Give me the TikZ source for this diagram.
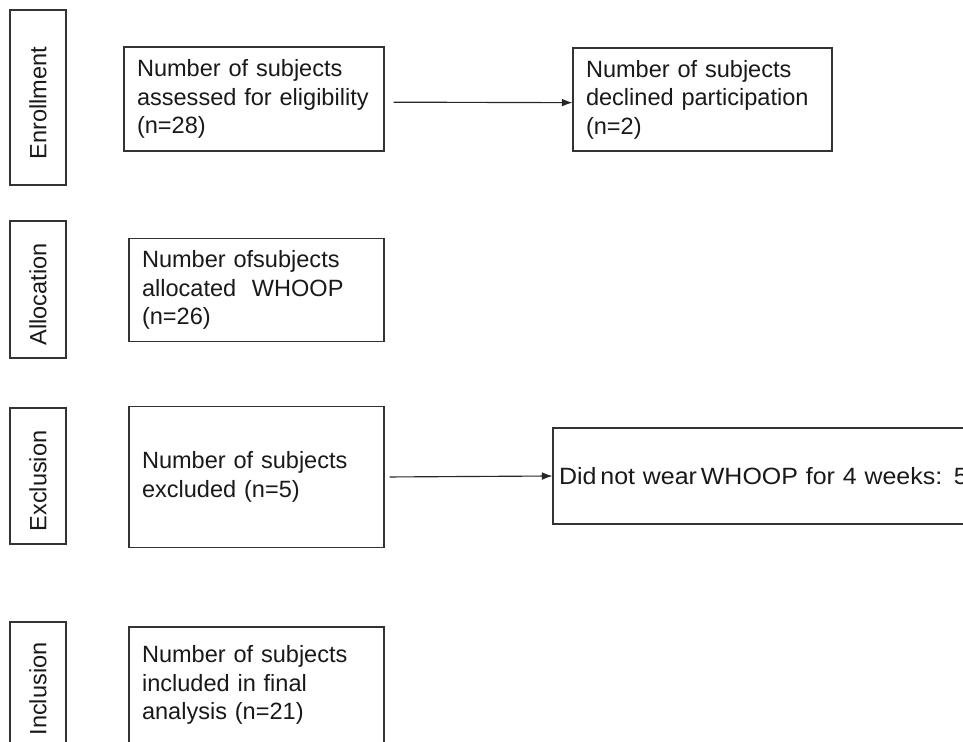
\documentclass[tikz,border=0pt]{standalone}
\usepackage{fontspec}
\setmainfont{Liberation Sans}
\newfontfamily\widesans[FakeStretch=1.06]{Liberation Sans}
\usepackage{tikz}
\usetikzlibrary{arrows.meta, positioning, calc}

\tikzset{
  stagebox/.style={draw=black!80, line width=0.65pt, rotate=90, inner sep=0pt,
    minimum height=1.12cm, font=\fontsize{13.4pt}{16.2pt}\selectfont, text=black!90},
  countbox/.style={draw=black!80, line width=0.65pt, align=left, inner xsep=0.26cm,
    inner ysep=0pt, font=\fontsize{13.4pt}{16.2pt}\selectfont, text=black!90},
  flowarrow/.style={-{Latex[length=6pt, width=4.4pt]}, line width=0.65pt, black!85}
}

\begin{document}
\begin{tikzpicture}[x=0.02cm, y=-0.02cm]
  \clip (0,0) rectangle (963,742);
  %% Stage labels on the left
  \node[stagebox, minimum width=3.5cm] (enroll) at (38,97.5) {Enrollment\hspace*{0.22cm}};
  \node[stagebox, minimum width=2.74cm] (alloc) at (38,289.5) {Allocation\hspace*{0.2cm}};
  \node[stagebox, minimum width=2.72cm] (excl) at (38,476) {Exclusion\hspace*{0.2cm}};
  \node[stagebox, minimum width=2.68cm] (incl) at (38,689) {Inclusion};
  %% Counts per stage
  \node[countbox, text width=4.68cm, minimum height=2.08cm] (assessed) at (254,99)
    {Number of subjects\\assessed for eligibility\\(n=28)};
  \node[countbox, text width=4.66cm, minimum height=2.06cm] (declined) at (702.5,99.5)
    {Number of subjects\\declined participation\\(n=2)};
  \node[countbox, text width=4.58cm, minimum height=2.06cm] (allocated) at (256.5,290)
    {Number ofsubjects\\allocated\ \ WHOOP\\(n=26)};
  \node[countbox, text width=4.58cm, minimum height=2.82cm] (excluded) at (256.5,477)
    {Number of subjects\\excluded (n=5)};
  \node[countbox, inner xsep=0.12cm, text width=8.7cm, minimum height=1.92cm] (reason) at (776.5,476)
    {\widesans Did\,not wear\,WHOOP for 4 weeks: 5};
  \node[countbox, text width=4.58cm, minimum height=2.32cm] (included) at (256.5,685)
    {Number of subjects\\included in final\\analysis (n=21)};
  %% Arrows to the side boxes
  \draw[flowarrow, shorten <=0.18cm] ([yshift=-1.8pt]assessed.east) -- ([yshift=-1.8pt]declined.west);
  \draw[flowarrow, shorten <=0.1cm] (excluded.east) -- (reason.west);
\end{tikzpicture}
\end{document}
